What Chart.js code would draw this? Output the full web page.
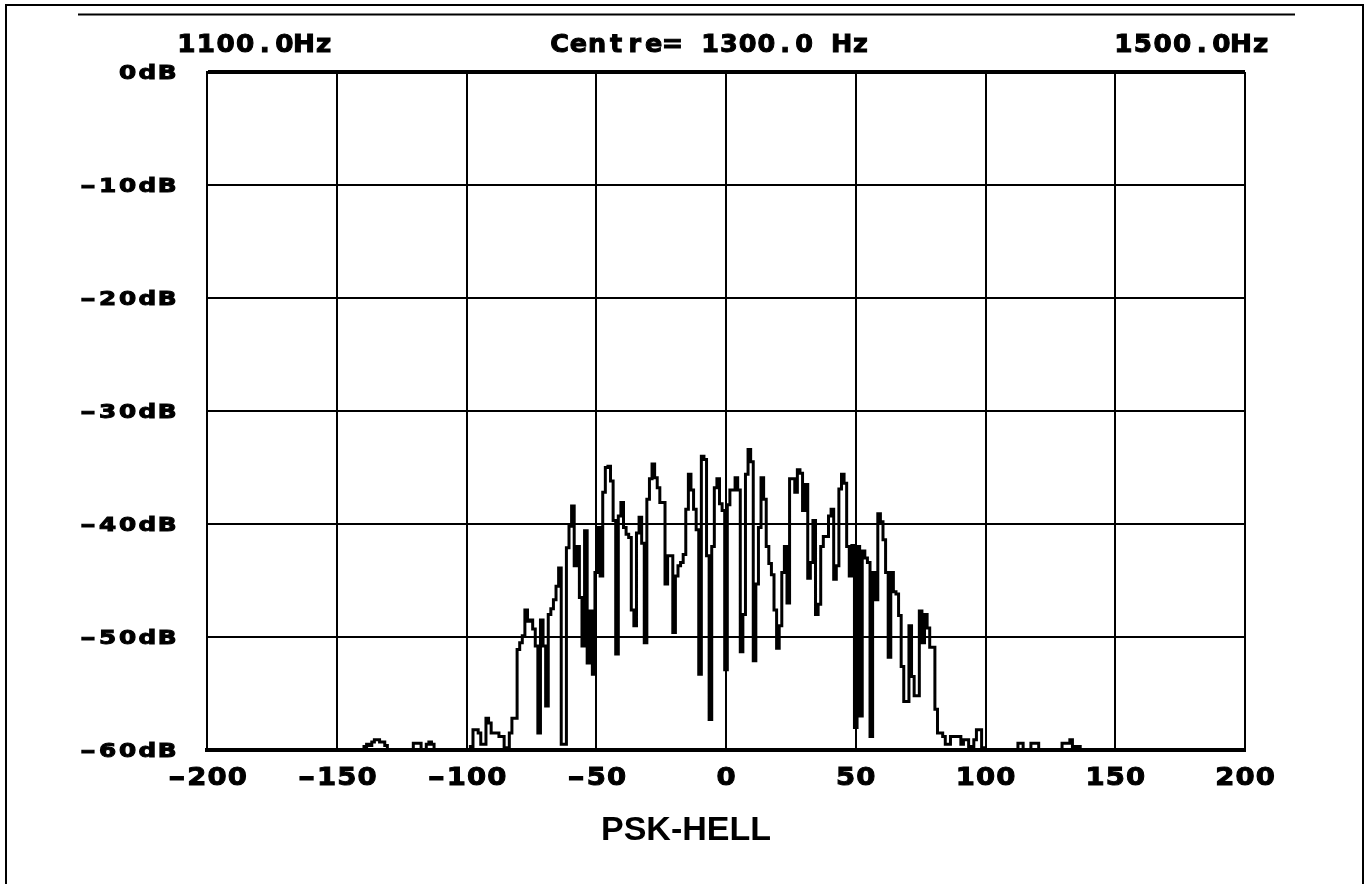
<!DOCTYPE html>
<html>
<head>
<meta charset="utf-8">
<title>PSK-HELL</title>
<script src="https://cdn.jsdelivr.net/npm/chart.js@4/dist/chart.umd.min.js"></script>
<style>
    html, body { margin: 0; padding: 0; background: #fff; }
    canvas { display: block; }
</style>
</head>
<body>
<canvas id="spectrum" width="1367" height="884"></canvas>
<script>
// Spectrum bins, 1 Hz apart, starting at -140 Hz (offset from centre)
const binStartHz = -140;
const binWidthHz = 1;
const levelsDb = [
    -60, -59.7, -59.5, -59.6, -59.3, -59.1, -59.1, -59.3, -59.3, -59.6,
    -60, -60, -60, -60, -60, -60, -60, -60, -60, -60,
    -59.4, -59.4, -59.4, -60, -60, -59.5, -59.3, -59.5, -60, -60,
    -60, -60, -60, -60, -60, -60, -60, -60, -60, -60,
    -60, -60, -59.7, -58.2, -58.2, -58.5, -59.5, -59.5, -57.2, -57.6,
    -58.5, -58.5, -58.5, -58.8, -58.8, -59.8, -59.8, -58.5, -57.2, -57.2,
    -51.1, -50.5, -49.9, -47.6, -48.6, -48.5, -49.3, -50.8, -58.5, -48.5,
    -50.8, -56.1, -48.0, -47.5, -46.7, -45.5, -43.9, -59.5, -59.5, -42.1,
    -40.2, -38.4, -43.7, -42.0, -46.5, -50.8, -40.6, -52.3, -47.7, -53.3,
    -44.3, -40.3, -44.6, -37.2, -35.0, -34.9, -36.2, -39.7, -51.5, -39.3,
    -38.1, -40.3, -40.9, -41.2, -47.6, -49.0, -40.8, -39.4, -41.7, -50.5,
    -37.8, -36.0, -34.7, -35.9, -36.8, -38.1, -38.1, -45.3, -42.8, -42.8,
    -49.6, -44.6, -43.7, -43.4, -42.7, -38.7, -35.6, -37.0, -38.7, -40.5,
    -53.3, -34.0, -34.3, -42.8, -57.3, -42.0, -36.8, -36.0, -38.2, -38.8,
    -52.9, -38.3, -37.0, -37.0, -35.9, -37.0, -51.3, -48.0, -35.6, -33.4,
    -34.5, -52.1, -45.3, -40.3, -35.9, -37.8, -42.0, -43.5, -44.5, -47.6,
    -51.0, -49.0, -44.3, -42.0, -47.0, -36.0, -36.0, -37.2, -35.2, -35.5,
    -38.8, -36.5, -44.8, -43.4, -39.7, -48.0, -47.1, -42.0, -41.1, -41.1,
    -39.3, -38.7, -44.9, -43.7, -36.9, -35.6, -36.4, -42.0, -44.6, -41.9,
    -58.0, -42.0, -57.0, -42.4, -43.0, -43.4, -58.8, -44.3, -46.7, -39.1,
    -39.8, -41.4, -44.3, -51.8, -44.3, -46.0, -46.2, -48.1, -52.6, -55.7,
    -55.7, -49.0, -53.5, -55.2, -55.2, -47.7, -50.5, -48.0, -49.2, -50.9,
    -50.9, -56.4, -58.5, -58.5, -58.8, -59.5, -59.5, -58.8, -58.8, -58.8,
    -58.8, -59.5, -59.1, -59.1, -59.7, -59.7, -59.1, -58.2, -58.2, -59.8,
    -60, -60, -60, -60, -60, -60, -60, -60, -60, -60,
    -60, -60, -60, -59.4, -59.4, -60, -60, -60, -59.4, -59.4,
    -59.4, -60, -60, -60, -60, -60, -60, -60, -60, -60,
    -59.4, -59.4, -59.4, -59.1, -59.7, -59.7, -59.7, -60, -60, -60,
    -60
];

// Axis ranges and labels
const xTicks = [-200, -150, -100, -50, 0, 50, 100, 150, 200];
const yTicks = [0, -10, -20, -30, -40, -50, -60];
const yTickLabels = ['0dB', '-10dB', '-20dB', '-30dB', '-40dB', '-50dB', '-60dB'];
const headerLabels = ['1100.0Hz', 'Centre= 1300.0 Hz', '1500.0Hz'];
const chartTitle = 'PSK-HELL';

const GLYPH_FONT = '"DejaVu Sans", "Liberation Sans", sans-serif';

// fixed-pitch text: every character sits centred in its own cell,
// like the old bitmap screen font (minus sign drawn wider)
function cellText(ctx, text, x, y, size, sx, cell, align) {
    const total = cell * text.length;
    let left = x;
    if (align === 'center') left = x - total / 2;
    else if (align === 'right') left = x - total;
    ctx.save();
    ctx.font = 'bold ' + size + 'px ' + GLYPH_FONT;
    ctx.textAlign = 'center';
    ctx.textBaseline = 'alphabetic';
    ctx.fillStyle = '#000';
    ctx.strokeStyle = '#000';
    ctx.lineWidth = 1;
    for (let i = 0; i < text.length; i++) {
        const ch = text[i];
        if (ch === ' ') continue;
        ctx.save();
        ctx.translate(left + cell * (i + 0.5) - 1, y);
        ctx.scale(ch === '-' ? sx * 1.5 : sx, 1);
        ctx.fillText(ch, 0, 0);
        ctx.strokeText(ch, 0, 0);
        ctx.restore();
    }
    ctx.restore();
}

const decorations = {
    id: 'decorations',
    afterDraw(chart) {
        const ctx = chart.ctx;
        const xs = chart.scales.x;
        const ys = chart.scales.y;

        // page frame
        ctx.save();
        ctx.strokeStyle = '#000';
        ctx.lineWidth = 2;
        ctx.beginPath();
        ctx.moveTo(6, 900); ctx.lineTo(6, 5); ctx.lineTo(1363, 5); ctx.lineTo(1363, 900);
        ctx.stroke();
        ctx.beginPath();
        ctx.moveTo(78, 14.5); ctx.lineTo(1295, 14.5);
        ctx.stroke();
        ctx.restore();

        // header
        cellText(ctx, headerLabels[0], 256, 52, 25, 1.05, 19.6, 'center');
        cellText(ctx, headerLabels[1], 711, 52, 25, 1.02, 18.8, 'center');
        cellText(ctx, headerLabels[2], 1193, 52, 25, 1.05, 19.6, 'center');

        // y tick labels
        yTicks.forEach((v, i) => {
            cellText(ctx, yTickLabels[i], 178, ys.getPixelForValue(v) + 7, 19, 1.3, 19.8, 'right');
        });

        // x tick labels
        xTicks.forEach(v => {
            cellText(ctx, String(v), xs.getPixelForValue(v) + 1, 785, 25, 1.1, 20.2, 'center');
        });

        // title
        ctx.save();
        ctx.font = 'bold 34px "Liberation Sans", Arial, sans-serif';
        ctx.textAlign = 'center';
        ctx.fillStyle = '#000';
        ctx.fillText(chartTitle, 686, 840);
        ctx.restore();
    }
};

const points = levelsDb.map((db, i) => ({ x: binStartHz + i * binWidthHz, y: db }));

new Chart(document.getElementById('spectrum'), {
    type: 'line',
    data: {
        datasets: [{
            data: points,
            borderColor: '#000',
            borderWidth: 3,
            pointRadius: 0,
            stepped: 'middle',
            fill: false
        }]
    },
    options: {
        responsive: false,
        animation: false,
        events: [],
        layout: { padding: { left: 207, right: 122, top: 72, bottom: 134 } },
        plugins: { legend: { display: false }, tooltip: { enabled: false } },
        scales: {
            x: {
                type: 'linear',
                min: -200,
                max: 200,
                ticks: { display: false, stepSize: 50 },
                grid: { color: '#000', lineWidth: 2, drawTicks: false },
                border: { color: '#000', width: 4 }
            },
            y: {
                type: 'linear',
                min: -60,
                max: 0,
                ticks: { display: false, stepSize: 10 },
                grid: {
                    color: '#000',
                    lineWidth: c => (c.tick && c.tick.value === 0) ? 4 : 2,
                    drawTicks: false
                },
                border: { color: '#000', width: 2 }
            }
        }
    },
    plugins: [decorations]
});
</script>
</body>
</html>
